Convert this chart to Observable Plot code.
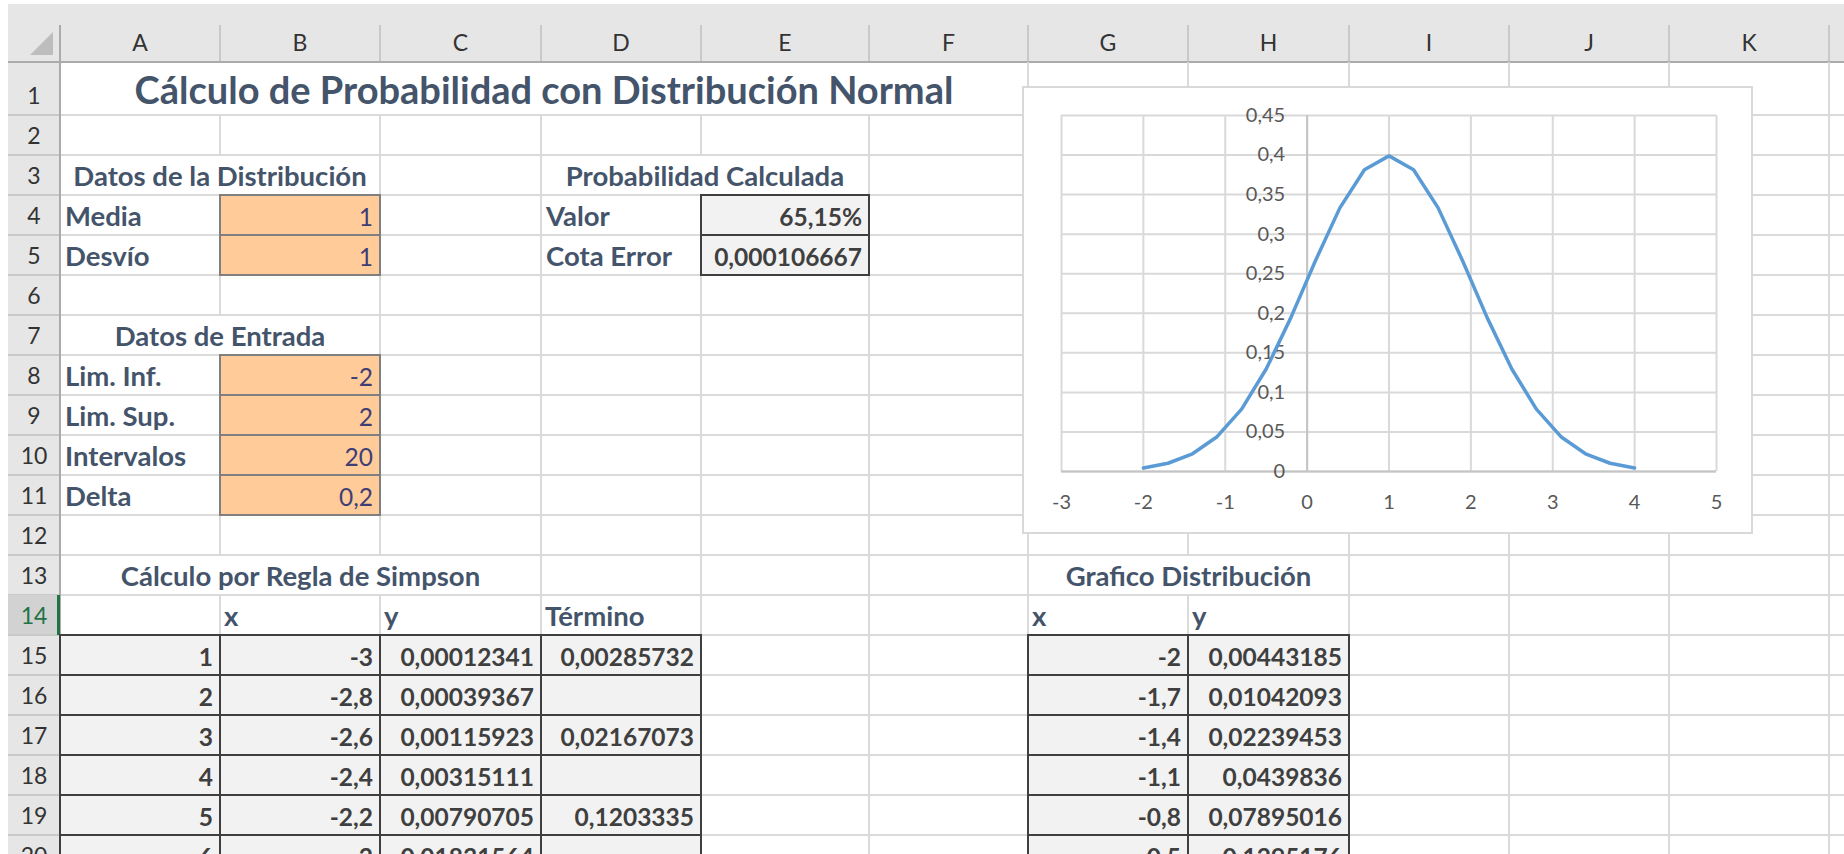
<!DOCTYPE html>
<html><head><meta charset="utf-8">
<script src="https://cdn.jsdelivr.net/npm/d3@7"></script>
<script src="https://cdn.jsdelivr.net/npm/@observablehq/plot@0.6"></script>
<style>
body{margin:0;background:#fff;}
#sheet{position:relative;width:1844px;height:854px;overflow:hidden;background:#fff;font-family:Lato,"Open Sans",sans-serif;}
#sheet div{position:absolute;box-sizing:border-box;white-space:nowrap;}
</style></head><body><div id="sheet"></div>
<script>
// ---------- data ----------
const colLetters = ["A","B","C","D","E","F","G","H","I","J","K"];
const rowNumbers = [1,2,3,4,5,6,7,8,9,10,11,12,13,14,15,16,17,18,19,20];
const titleText = "Cálculo de Probabilidad con Distribución Normal";
const headDist = "Datos de la Distribución";
const headProb = "Probabilidad Calculada";
const headInput = "Datos de Entrada";
const headSimpson = "Cálculo por Regla de Simpson";
const headGraph = "Grafico Distribución";
const distLabels = ["Media", "Desvío"];
const distValues = ["1", "1"];
const probLabels = ["Valor", "Cota Error"];
const probValues = ["65,15%", "0,000106667"];
const inputLabels = ["Lim. Inf.", "Lim. Sup.", "Intervalos", "Delta"];
const inputValues = ["-2", "2", "20", "0,2"];
const simpsonHeaders = ["x", "y", "Término"];
const simpsonN = [1, 2, 3, 4, 5, 6];
const simpsonX = [-3, -2.8, -2.6, -2.4, -2.2, -2];
const simpsonY = [0.00012341, 0.00039367, 0.00115923, 0.00315111, 0.00790705, 0.01831564];
const simpsonTerm = [0.00285732, null, 0.02167073, null, 0.1203335, null];
const graphHeaders = ["x", "y"];
const curveX = [-2, -1.7, -1.4, -1.1, -0.8, -0.5, -0.2, 0.1, 0.4, 0.7, 1, 1.3, 1.6, 1.9, 2.2, 2.5, 2.8, 3.1, 3.4, 3.7, 4];
const curveY = [0.00443185, 0.01042093, 0.02239453, 0.0439836, 0.07895016, 0.1295176, 0.19418605, 0.26608525, 0.3332246, 0.38138782, 0.39894228, 0.38138782, 0.3332246, 0.26608525, 0.19418605, 0.1295176, 0.07895016, 0.0439836, 0.02239453, 0.01042093, 0.00443185];
const xTicks = [-3, -2, -1, 0, 1, 2, 3, 4, 5];
const yTicks = [0, 0.05, 0.1, 0.15, 0.2, 0.25, 0.3, 0.35, 0.4, 0.45];

// ---------- layout ----------
const COL = [60,220,380,541,701,869,1028,1188,1349,1509,1669,1829,1989];
const rowTop = r => r === 1 ? 62 : 115 + 40 * (r - 2);
const rowBot = r => r === 1 ? 115 : 155 + 40 * (r - 2);
const merges = [{r:1,c0:0,c1:5},{r:3,c0:0,c1:1},{r:3,c0:3,c1:4},{r:7,c0:0,c1:1},{r:13,c0:0,c1:2},{r:13,c0:6,c1:7}];
const HEAD = "#44546A", OUT = "#3F3F3F", INP = "#3F3F76";
const WORD = 27.5, NUM = 24.5;
const sheet = document.getElementById("sheet");
const fmt = v => String(v).replace(".", ",");

function el(css, txt) {
  const d = document.createElement("div");
  Object.assign(d.style, css);
  if (txt != null) d.textContent = txt;
  sheet.appendChild(d);
  return d;
}
function rect(x, y, w, h, bg) { return el({left:x+"px",top:y+"px",width:w+"px",height:h+"px",background:bg}); }
function text(x0, x1, yb, str, o = {}) {
  const size = o.size || WORD, base = o.base ?? 8.5, pad = o.pad ?? 5;
  return el({left:x0+"px", width:(x1-x0)+"px", top:(yb - base - 0.987*size)+"px",
    lineHeight:"1.2", fontSize:size+"px", fontWeight:o.bold?"700":"400",
    color:o.color||OUT, textAlign:o.align||"left", padding:`0 ${pad}px`, overflow:"visible"}, str);
}
function cellText(c0, c1, r, str, o) { return text(COL[c0], COL[c1+1], rowBot(r), str, o); }
function box(c, r, fill, border) {
  el({left:(COL[c]-1)+"px", top:(rowTop(r)-1)+"px", width:(COL[c+1]-COL[c]+2)+"px",
      height:(rowBot(r)-rowTop(r)+2)+"px", background:fill, border:`2px solid ${border}`});
}

// headers background
rect(8, 4, 1836, 58, "#E6E6E6");
rect(8, 62, 52, 792, "#E6E6E6");
// corner triangle
el({left:"30px",top:"32px",width:"23px",height:"23px",background:"#BDBDBD",clipPath:"polygon(100% 0,100% 100%,0 100%)"});
// column header dividers + letters
for (let k = 0; k < COL.length; k++) rect(COL[k]-1, 25, 2, 37, "#C9C9C9");
colLetters.forEach((L, i) => text(COL[i], COL[i+1], 52, L, {size:23, color:"#333", align:"center", base:0.5, pad:0}));
// row header
rowNumbers.forEach(r => {
  if (r === 14) rect(8, rowTop(r), 52, 40, "#D2D2D2");
  rect(8, rowBot(r)-1, 52, 2, "#C9C9C9");
  text(8, 60, rowBot(r), String(r), {size:23, color: r === 14 ? "#217346" : "#333", align:"center", base:10, pad:0});
});
rect(8, 61, 1836, 2, "#ABABAB");
rect(59, 25, 2, 829, "#ABABAB");
rect(57, rowTop(14), 3, 40, "#217346");

// cell gridlines
rowNumbers.forEach(r => {
  for (let k = 1; k < COL.length; k++) {
    const inside = merges.some(m => m.r === r && m.c0 <= k-1 && k <= m.c1);
    if (!inside) rect(COL[k]-1, rowTop(r), 2, rowBot(r)-rowTop(r), "#DADADA");
  }
  rect(61, rowBot(r)-1, 1783, 2, "#DADADA");
});

// filled / bordered cells
distValues.forEach((v, i) => box(1, 4+i, "#FFCC99", "#7F7F7F"));
inputValues.forEach((v, i) => box(1, 8+i, "#FFCC99", "#7F7F7F"));
probValues.forEach((v, i) => box(4, 4+i, "#F2F2F2", OUT));
simpsonN.forEach((n, i) => { for (let c = 0; c < 4; c++) box(c, 15+i, "#F2F2F2", OUT); });
curveX.slice(0, 6).forEach((v, i) => { box(6, 15+i, "#F2F2F2", OUT); box(7, 15+i, "#F2F2F2", OUT); });

// texts
cellText(0, 5, 1, titleText, {size:38, bold:true, color:HEAD, align:"center", base:10});
cellText(0, 1, 3, headDist, {bold:true, color:HEAD, align:"center"});
cellText(3, 4, 3, headProb, {bold:true, color:HEAD, align:"center"});
cellText(0, 1, 7, headInput, {bold:true, color:HEAD, align:"center"});
cellText(0, 2, 13, headSimpson, {bold:true, color:HEAD, align:"center"});
cellText(6, 7, 13, headGraph, {bold:true, color:HEAD, align:"center"});
distLabels.forEach((s, i) => cellText(0, 0, 4+i, s, {bold:true, color:HEAD}));
distValues.forEach((s, i) => cellText(1, 1, 4+i, s, {size:NUM, color:INP, align:"right", pad:7}));
probLabels.forEach((s, i) => cellText(3, 3, 4+i, s, {bold:true, color:HEAD}));
probValues.forEach((s, i) => cellText(4, 4, 4+i, s, {size:NUM, bold:true, color:OUT, align:"right", pad:7}));
inputLabels.forEach((s, i) => cellText(0, 0, 8+i, s, {bold:true, color:HEAD}));
inputValues.forEach((s, i) => cellText(1, 1, 8+i, s, {size:NUM, color:INP, align:"right", pad:7}));
simpsonHeaders.forEach((s, i) => cellText(1+i, 1+i, 14, s, {bold:true, color:HEAD, pad:4}));
graphHeaders.forEach((s, i) => cellText(6+i, 6+i, 14, s, {bold:true, color:HEAD, pad:4}));
simpsonN.forEach((n, i) => {
  cellText(0, 0, 15+i, String(n), {size:NUM, bold:true, align:"right", pad:7});
  cellText(1, 1, 15+i, fmt(simpsonX[i]), {size:NUM, bold:true, align:"right", pad:7});
  cellText(2, 2, 15+i, fmt(simpsonY[i]), {size:NUM, bold:true, align:"right", pad:7});
  if (simpsonTerm[i] != null) cellText(3, 3, 15+i, fmt(simpsonTerm[i]), {size:NUM, bold:true, align:"right", pad:7});
});
curveX.slice(0, 6).forEach((v, i) => {
  cellText(6, 6, 15+i, fmt(v), {size:NUM, bold:true, align:"right", pad:7});
  cellText(7, 7, 15+i, fmt(curveY[i]), {size:NUM, bold:true, align:"right", pad:7});
});

// ---------- chart ----------
const series = curveX.map((x, i) => ({x, y: curveY[i]}));
const chart = Plot.plot({
  width: 729, height: 446,
  marginLeft: 38, marginRight: 36, marginTop: 28, marginBottom: 62,
  x: {domain: [-3, 5], axis: null},
  y: {domain: [0, 0.45], axis: null},
  style: {background: "#fff", fontFamily: "Lato, 'Open Sans', sans-serif", overflow: "visible"},
  marks: [
    Plot.ruleX(xTicks, {stroke: "#D9D9D9", strokeWidth: 2}),
    Plot.ruleY(yTicks, {stroke: "#D9D9D9", strokeWidth: 2}),
    Plot.ruleX([0], {stroke: "#C4C4C4", strokeWidth: 2}),
    Plot.ruleY([0], {stroke: "#C4C4C4", strokeWidth: 2}),
    Plot.text(yTicks, {x: 0, y: d => d, text: d => fmt(d), textAnchor: "end", dx: -22, fill: "#595959", fontSize: 20}),
    Plot.text(xTicks, {x: d => d, y: 0, text: d => String(d), dy: 31, fill: "#595959", fontSize: 20}),
    Plot.line(series, {x: "x", y: "y", stroke: "#5B9BD5", strokeWidth: 3.5, strokeLinecap: "round", strokeLinejoin: "round"})
  ]
});
const holder = el({left:"1023px", top:"87px", width:"729px", height:"446px", background:"#fff", outline:"2px solid #D9D9D9", outlineOffset:"-1px"});
holder.appendChild(chart);
</script></body></html>
